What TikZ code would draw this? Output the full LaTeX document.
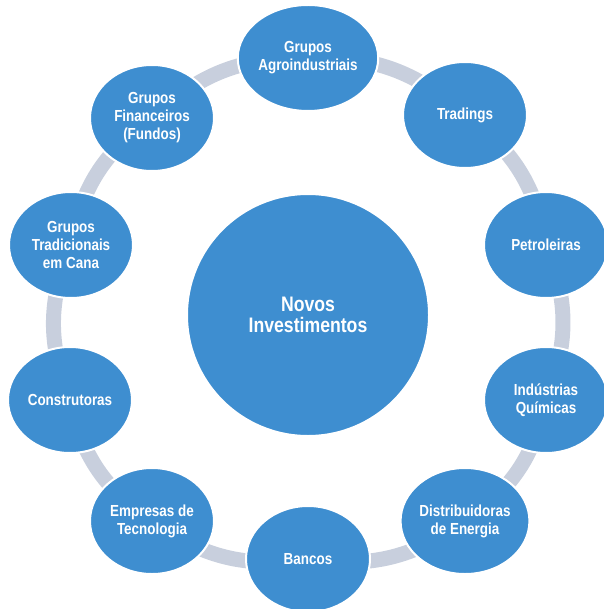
\documentclass[tikz,border=0pt]{standalone}
\usepackage{fontspec}
\setmainfont{Liberation Sans}[FakeStretch=0.84]
\usetikzlibrary{shapes.geometric,backgrounds}
\definecolor{nodeblue}{HTML}{3E8ED0}
\definecolor{barcol}{HTML}{C8CFDD}
\begin{document}
\begin{tikzpicture}[x=1pt,y=-1pt,
  outer/.style={ellipse, fill=nodeblue, draw=white, line width=2pt,
    minimum width=124pt, minimum height=106pt, inner sep=0pt,
    text=white, align=center,
    font=\fontsize{16pt}{18pt}\selectfont\bfseries},
  hub/.style={circle, fill=nodeblue, draw=white, line width=2pt,
    minimum size=242pt, inner sep=0pt, text=white, align=center,
    font=\fontsize{21pt}{21pt}\selectfont\bfseries},
  bar/.style={draw=barcol, line width=15pt}]
\useasboundingbox (0,0) rectangle (603,609);
\node[hub] (hub) at (308,315) {Novos\\Investimentos};
\node[outer] (agro) at (308,58) {Grupos\\Agroindustriais};
\node[outer] (trad) at (465,115) {Tradings};
\node[outer] (petr) at (546,245) {Petroleiras};
\node[outer] (quim) at (546,400) {Indústrias\\Químicas};
\node[outer] (dist) at (465,521) {Distribuidoras\\de Energia};
\node[outer] (banc) at (308,559) {Bancos};
\node[outer] (tecn) at (152,521) {Empresas de\\Tecnologia};
\node[outer] (cons) at (70,400) {Construtoras};
\node[outer] (cana) at (71,245) {Grupos\\Tradicionais\\em Cana};
\node[outer] (fina) at (152,118) {Grupos\\Financeiros\\(Fundos)};
\begin{scope}[on background layer]
\foreach \a/\b in {agro/trad,trad/petr,petr/quim,quim/dist,dist/banc,banc/tecn,tecn/cons,cons/cana,cana/fina,fina/agro}
  \draw[bar] (\a.center) to[bend left=22] (\b.center);
\end{scope}
\end{tikzpicture}
\end{document}
